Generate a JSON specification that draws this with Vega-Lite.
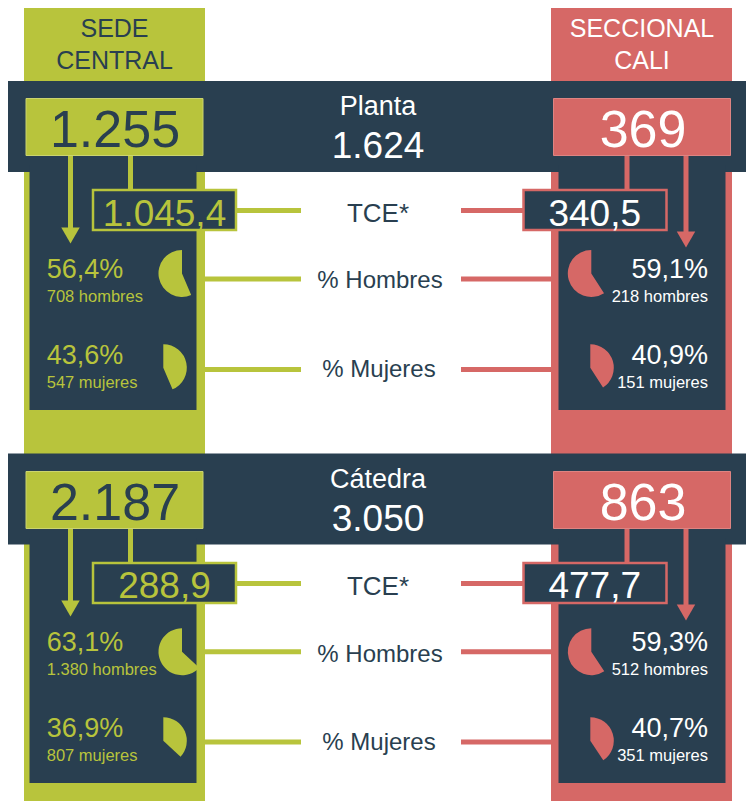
{
  "$schema": "https://vega.github.io/schema/vega-lite/v6.json",
  "width": 746,
  "height": 801,
  "autosize": {"type": "none"},
  "padding": 0,
  "background": "#ffffff",
  "config": {
    "view": {"stroke": null},
    "font": "Liberation Sans",
    "legend": {"disable": true},
    "locale": {"number": {"decimal": ",", "thousands": ".", "grouping": [3], "currency": ["$", ""]}}
  },
  "datasets": {
    "sedes": [
      {"sede": "Sede Central", "nombre": "SEDE\nCENTRAL"},
      {"sede": "Seccional Cali", "nombre": "SECCIONAL\nCALI"}
    ],
    "secciones": [
      {"section": "Planta", "total": 1624},
      {"section": "Cátedra", "total": 3050}
    ],
    "sede_seccion": [
      {"section": "Planta", "sede": "Sede Central", "total": 1255, "tce": 1045.4},
      {"section": "Planta", "sede": "Seccional Cali", "total": 369, "tce": 340.5},
      {"section": "Cátedra", "sede": "Sede Central", "total": 2187, "tce": 288.9},
      {"section": "Cátedra", "sede": "Seccional Cali", "total": 863, "tce": 477.7}
    ],
    "genero": [
      {"section": "Planta", "sede": "Sede Central", "metric": "hombres", "pct": 56.4, "count": 708},
      {"section": "Planta", "sede": "Sede Central", "metric": "mujeres", "pct": 43.6, "count": 547},
      {"section": "Planta", "sede": "Seccional Cali", "metric": "hombres", "pct": 59.1, "count": 218},
      {"section": "Planta", "sede": "Seccional Cali", "metric": "mujeres", "pct": 40.9, "count": 151},
      {"section": "Cátedra", "sede": "Sede Central", "metric": "hombres", "pct": 63.1, "count": 1380},
      {"section": "Cátedra", "sede": "Sede Central", "metric": "mujeres", "pct": 36.9, "count": 807},
      {"section": "Cátedra", "sede": "Seccional Cali", "metric": "hombres", "pct": 59.3, "count": 512},
      {"section": "Cátedra", "sede": "Seccional Cali", "metric": "mujeres", "pct": 40.7, "count": 351}
    ],
    "etiquetas": [
      {"section": "Planta", "metric": "TCE", "label": "TCE*"},
      {"section": "Planta", "metric": "hombres", "label": "% Hombres"},
      {"section": "Planta", "metric": "mujeres", "label": "% Mujeres"},
      {"section": "Cátedra", "metric": "TCE", "label": "TCE*"},
      {"section": "Cátedra", "metric": "hombres", "label": "% Hombres"},
      {"section": "Cátedra", "metric": "mujeres", "label": "% Mujeres"}
    ]
  },
  "resolve": {"scale": {"x": "independent", "y": "independent", "color": "independent", "stroke": "independent", "theta": "independent"}},
  "layer": [
    {
      "data": {"name": "sedes"},
      "mark": {"type": "rect", "width": 181, "height": 793},
      "encoding": {
        "x": {"field": "sede", "type": "nominal", "axis": null, "scale": {"type": "point", "domain": ["Sede Central", "Seccional Cali"], "range": [114.5, 641.5], "padding": 0}},
        "y": {"field": "sede", "type": "nominal", "axis": null, "scale": {"type": "point", "domain": ["Sede Central", "Seccional Cali"], "range": [404.5, 404.5], "padding": 0}},
        "color": {"field": "sede", "type": "nominal", "legend": null, "scale": {"domain": ["Sede Central", "Seccional Cali"], "range": ["#b8c43c", "#d66866"]}}
      }
    },
    {
      "data": {"name": "sedes"},
      "mark": {"type": "text", "fontSize": 25, "lineBreak": "\n", "lineHeight": 32, "align": "center", "baseline": "alphabetic"},
      "encoding": {
        "x": {"field": "sede", "type": "nominal", "axis": null, "scale": {"type": "point", "domain": ["Sede Central", "Seccional Cali"], "range": [114.5, 642], "padding": 0}},
        "y": {"field": "sede", "type": "nominal", "axis": null, "scale": {"type": "point", "domain": ["Sede Central", "Seccional Cali"], "range": [37.3, 37.3], "padding": 0}},
        "text": {"field": "nombre"},
        "color": {"field": "sede", "type": "nominal", "legend": null, "scale": {"domain": ["Sede Central", "Seccional Cali"], "range": ["#293f50", "#ffffff"]}}
      }
    },
    {
      "data": {"name": "sede_seccion"},
      "mark": {"type": "rect", "width": 71, "height": 5},
      "encoding": {
        "x": {"field": "sede", "type": "nominal", "axis": null, "scale": {"type": "point", "domain": ["Sede Central", "Seccional Cali"], "range": [265.5, 496.5], "padding": 0}},
        "y": {"field": "section", "type": "nominal", "axis": null, "scale": {"type": "point", "domain": ["Planta", "Cátedra"], "range": [210.5, 583.5], "padding": 0}},
        "color": {"field": "sede", "type": "nominal", "legend": null, "scale": {"domain": ["Sede Central", "Seccional Cali"], "range": ["#b8c43c", "#d66866"]}}
      }
    },
    {
      "data": {"name": "genero"},
      "transform": [{"filter": "datum.metric == 'hombres'"}],
      "mark": {"type": "rect", "width": 100, "height": 5},
      "encoding": {
        "x": {"field": "sede", "type": "nominal", "axis": null, "scale": {"type": "point", "domain": ["Sede Central", "Seccional Cali"], "range": [251, 511], "padding": 0}},
        "y": {"field": "section", "type": "nominal", "axis": null, "scale": {"type": "point", "domain": ["Planta", "Cátedra"], "range": [279, 651.8], "padding": 0}},
        "color": {"field": "sede", "type": "nominal", "legend": null, "scale": {"domain": ["Sede Central", "Seccional Cali"], "range": ["#b8c43c", "#d66866"]}}
      }
    },
    {
      "data": {"name": "genero"},
      "transform": [{"filter": "datum.metric == 'mujeres'"}],
      "mark": {"type": "rect", "width": 100, "height": 5},
      "encoding": {
        "x": {"field": "sede", "type": "nominal", "axis": null, "scale": {"type": "point", "domain": ["Sede Central", "Seccional Cali"], "range": [251, 511], "padding": 0}},
        "y": {"field": "section", "type": "nominal", "axis": null, "scale": {"type": "point", "domain": ["Planta", "Cátedra"], "range": [369.5, 742], "padding": 0}},
        "color": {"field": "sede", "type": "nominal", "legend": null, "scale": {"domain": ["Sede Central", "Seccional Cali"], "range": ["#b8c43c", "#d66866"]}}
      }
    },
    {
      "data": {"name": "secciones"},
      "mark": {"type": "rect", "width": 738, "height": 91, "color": "#293f50"},
      "encoding": {
        "x": {"field": "section", "type": "nominal", "axis": null, "scale": {"type": "point", "domain": ["Planta", "Cátedra"], "range": [377, 377], "padding": 0}},
        "y": {"field": "section", "type": "nominal", "axis": null, "scale": {"type": "point", "domain": ["Planta", "Cátedra"], "range": [126.5, 499], "padding": 0}}
      }
    },
    {
      "data": {"name": "sede_seccion"},
      "mark": {"type": "rect", "width": 167, "height": 245, "color": "#293f50"},
      "encoding": {
        "x": {"field": "sede", "type": "nominal", "axis": null, "scale": {"type": "point", "domain": ["Sede Central", "Seccional Cali"], "range": [113, 642], "padding": 0}},
        "y": {"field": "section", "type": "nominal", "axis": null, "scale": {"type": "point", "domain": ["Planta", "Cátedra"], "range": [287.5, 660.5], "padding": 0}}
      }
    },
    {
      "data": {"name": "sede_seccion"},
      "mark": {"type": "rect", "width": 5, "height": 84},
      "encoding": {
        "x": {"field": "sede", "type": "nominal", "axis": null, "scale": {"type": "point", "domain": ["Sede Central", "Seccional Cali"], "range": [70.5, 686], "padding": 0}},
        "y": {"field": "section", "type": "nominal", "axis": null, "scale": {"type": "point", "domain": ["Planta", "Cátedra"], "range": [192, 565], "padding": 0}},
        "color": {"field": "sede", "type": "nominal", "legend": null, "scale": {"domain": ["Sede Central", "Seccional Cali"], "range": ["#b8c43c", "#d66866"]}}
      }
    },
    {
      "data": {"name": "sede_seccion"},
      "mark": {"type": "rect", "width": 5, "height": 40},
      "encoding": {
        "x": {"field": "sede", "type": "nominal", "axis": null, "scale": {"type": "point", "domain": ["Sede Central", "Seccional Cali"], "range": [130.5, 627], "padding": 0}},
        "y": {"field": "section", "type": "nominal", "axis": null, "scale": {"type": "point", "domain": ["Planta", "Cátedra"], "range": [170, 543], "padding": 0}},
        "color": {"field": "sede", "type": "nominal", "legend": null, "scale": {"domain": ["Sede Central", "Seccional Cali"], "range": ["#b8c43c", "#d66866"]}}
      }
    },
    {
      "data": {"name": "sede_seccion"},
      "transform": [{"filter": "datum.sede == 'Sede Central'"}],
      "mark": {"type": "point", "shape": "triangle-down", "size": 340, "filled": true, "opacity": 1, "color": "#b8c43c"},
      "encoding": {
        "x": {"field": "sede", "type": "nominal", "axis": null, "scale": {"type": "point", "domain": ["Sede Central", "Seccional Cali"], "range": [70.5, 686], "padding": 0}},
        "y": {"field": "section", "type": "nominal", "axis": null, "scale": {"type": "point", "domain": ["Planta", "Cátedra"], "range": [235.5, 608.5], "padding": 0}}
      }
    },
    {
      "data": {"name": "sede_seccion"},
      "transform": [{"filter": "datum.sede == 'Seccional Cali'"}],
      "mark": {"type": "point", "shape": "triangle-down", "size": 340, "filled": true, "opacity": 1, "color": "#d66866"},
      "encoding": {
        "x": {"field": "sede", "type": "nominal", "axis": null, "scale": {"type": "point", "domain": ["Sede Central", "Seccional Cali"], "range": [70.5, 686], "padding": 0}},
        "y": {"field": "section", "type": "nominal", "axis": null, "scale": {"type": "point", "domain": ["Planta", "Cátedra"], "range": [239.4, 612.4], "padding": 0}}
      }
    },
    {
      "data": {"name": "sede_seccion"},
      "mark": {"type": "rect", "width": 177, "height": 57, "strokeWidth": 1},
      "encoding": {
        "x": {"field": "sede", "type": "nominal", "axis": null, "scale": {"type": "point", "domain": ["Sede Central", "Seccional Cali"], "range": [114.5, 642], "padding": 0}},
        "y": {"field": "section", "type": "nominal", "axis": null, "scale": {"type": "point", "domain": ["Planta", "Cátedra"], "range": [127, 500], "padding": 0}},
        "fill": {"field": "sede", "type": "nominal", "legend": null, "scale": {"domain": ["Sede Central", "Seccional Cali"], "range": ["#b8c43c", "#d66866"]}},
        "stroke": {"field": "sede", "type": "nominal", "legend": null, "scale": {"domain": ["Sede Central", "Seccional Cali"], "range": ["#cbd46e", "#de8482"]}}
      }
    },
    {
      "data": {"name": "sede_seccion"},
      "mark": {"type": "text", "fontSize": 52, "align": "center", "baseline": "alphabetic"},
      "encoding": {
        "x": {"field": "sede", "type": "nominal", "axis": null, "scale": {"type": "point", "domain": ["Sede Central", "Seccional Cali"], "range": [115, 643], "padding": 0}},
        "y": {"field": "section", "type": "nominal", "axis": null, "scale": {"type": "point", "domain": ["Planta", "Cátedra"], "range": [147, 520], "padding": 0}},
        "text": {"field": "total", "type": "quantitative", "format": ",d"},
        "color": {"field": "sede", "type": "nominal", "legend": null, "scale": {"domain": ["Sede Central", "Seccional Cali"], "range": ["#293f50", "#ffffff"]}}
      }
    },
    {
      "data": {"name": "sede_seccion"},
      "mark": {"type": "rect", "width": 143, "height": 40, "fill": "#293f50", "strokeWidth": 2.5},
      "encoding": {
        "x": {"field": "sede", "type": "nominal", "axis": null, "scale": {"type": "point", "domain": ["Sede Central", "Seccional Cali"], "range": [164.5, 595], "padding": 0}},
        "y": {"field": "section", "type": "nominal", "axis": null, "scale": {"type": "point", "domain": ["Planta", "Cátedra"], "range": [210, 583], "padding": 0}},
        "stroke": {"field": "sede", "type": "nominal", "legend": null, "scale": {"domain": ["Sede Central", "Seccional Cali"], "range": ["#b8c43c", "#d66866"]}}
      }
    },
    {
      "data": {"name": "sede_seccion"},
      "mark": {"type": "text", "fontSize": 37, "align": "center", "baseline": "alphabetic"},
      "encoding": {
        "x": {"field": "sede", "type": "nominal", "axis": null, "scale": {"type": "point", "domain": ["Sede Central", "Seccional Cali"], "range": [164.5, 594.7], "padding": 0}},
        "y": {"field": "section", "type": "nominal", "axis": null, "scale": {"type": "point", "domain": ["Planta", "Cátedra"], "range": [225.7, 598.2], "padding": 0}},
        "text": {"field": "tce", "type": "quantitative", "format": ",.1f"},
        "color": {"field": "sede", "type": "nominal", "legend": null, "scale": {"domain": ["Sede Central", "Seccional Cali"], "range": ["#b8c43c", "#ffffff"]}}
      }
    },
    {
      "data": {"name": "secciones"},
      "mark": {"type": "text", "fontSize": 27, "align": "center", "baseline": "alphabetic", "color": "#ffffff"},
      "encoding": {
        "x": {"field": "section", "type": "nominal", "axis": null, "scale": {"type": "point", "domain": ["Planta", "Cátedra"], "range": [378, 378], "padding": 0}},
        "y": {"field": "section", "type": "nominal", "axis": null, "scale": {"type": "point", "domain": ["Planta", "Cátedra"], "range": [115, 488], "padding": 0}},
        "text": {"field": "section"}
      }
    },
    {
      "data": {"name": "secciones"},
      "mark": {"type": "text", "fontSize": 37, "align": "center", "baseline": "alphabetic", "color": "#ffffff"},
      "encoding": {
        "x": {"field": "section", "type": "nominal", "axis": null, "scale": {"type": "point", "domain": ["Planta", "Cátedra"], "range": [378, 378], "padding": 0}},
        "y": {"field": "section", "type": "nominal", "axis": null, "scale": {"type": "point", "domain": ["Planta", "Cátedra"], "range": [158.3, 531], "padding": 0}},
        "text": {"field": "total", "type": "quantitative", "format": ",d"}
      }
    },
    {
      "data": {"name": "etiquetas"},
      "transform": [{"filter": "datum.metric == 'TCE'"}],
      "mark": {"type": "text", "fontSize": 26, "align": "center", "baseline": "alphabetic", "color": "#293f50"},
      "encoding": {
        "x": {"field": "section", "type": "nominal", "axis": null, "scale": {"type": "point", "domain": ["Planta", "Cátedra"], "range": [378, 378], "padding": 0}},
        "y": {"field": "section", "type": "nominal", "axis": null, "scale": {"type": "point", "domain": ["Planta", "Cátedra"], "range": [222, 595], "padding": 0}},
        "text": {"field": "label"}
      }
    },
    {
      "data": {"name": "etiquetas"},
      "transform": [{"filter": "datum.metric == 'hombres'"}],
      "mark": {"type": "text", "fontSize": 24, "align": "center", "baseline": "alphabetic", "color": "#293f50"},
      "encoding": {
        "x": {"field": "section", "type": "nominal", "axis": null, "scale": {"type": "point", "domain": ["Planta", "Cátedra"], "range": [380, 380], "padding": 0}},
        "y": {"field": "section", "type": "nominal", "axis": null, "scale": {"type": "point", "domain": ["Planta", "Cátedra"], "range": [288.3, 661.5], "padding": 0}},
        "text": {"field": "label"}
      }
    },
    {
      "data": {"name": "etiquetas"},
      "transform": [{"filter": "datum.metric == 'mujeres'"}],
      "mark": {"type": "text", "fontSize": 24, "align": "center", "baseline": "alphabetic", "color": "#293f50"},
      "encoding": {
        "x": {"field": "section", "type": "nominal", "axis": null, "scale": {"type": "point", "domain": ["Planta", "Cátedra"], "range": [379, 379], "padding": 0}},
        "y": {"field": "section", "type": "nominal", "axis": null, "scale": {"type": "point", "domain": ["Planta", "Cátedra"], "range": [377.3, 750.3], "padding": 0}},
        "text": {"field": "label"}
      }
    },
    {
      "data": {"name": "genero"},
      "transform": [{"filter": "datum.metric == 'hombres'"}],
      "mark": {"type": "text", "fontSize": 27, "baseline": "alphabetic", "align": {"expr": "datum.sede == 'Sede Central' ? 'left' : 'right'"}, "text": {"expr": "format(datum.pct, '.1f') + '%'"}},
      "encoding": {
        "x": {"field": "sede", "type": "nominal", "axis": null, "scale": {"type": "point", "domain": ["Sede Central", "Seccional Cali"], "range": [46.7, 708], "padding": 0}},
        "y": {"field": "section", "type": "nominal", "axis": null, "scale": {"type": "point", "domain": ["Planta", "Cátedra"], "range": [278, 650.5], "padding": 0}},
        "color": {"field": "sede", "type": "nominal", "legend": null, "scale": {"domain": ["Sede Central", "Seccional Cali"], "range": ["#b8c43c", "#ffffff"]}}
      }
    },
    {
      "data": {"name": "genero"},
      "transform": [{"filter": "datum.metric == 'mujeres'"}],
      "mark": {"type": "text", "fontSize": 27, "baseline": "alphabetic", "align": {"expr": "datum.sede == 'Sede Central' ? 'left' : 'right'"}, "text": {"expr": "format(datum.pct, '.1f') + '%'"}},
      "encoding": {
        "x": {"field": "sede", "type": "nominal", "axis": null, "scale": {"type": "point", "domain": ["Sede Central", "Seccional Cali"], "range": [46.7, 708], "padding": 0}},
        "y": {"field": "section", "type": "nominal", "axis": null, "scale": {"type": "point", "domain": ["Planta", "Cátedra"], "range": [364, 736.7], "padding": 0}},
        "color": {"field": "sede", "type": "nominal", "legend": null, "scale": {"domain": ["Sede Central", "Seccional Cali"], "range": ["#b8c43c", "#ffffff"]}}
      }
    },
    {
      "data": {"name": "genero"},
      "transform": [{"filter": "datum.metric == 'hombres'"}],
      "mark": {"type": "text", "fontSize": 16.5, "baseline": "alphabetic", "align": {"expr": "datum.sede == 'Sede Central' ? 'left' : 'right'"}, "text": {"expr": "format(datum.count, ',d') + ' ' + datum.metric"}},
      "encoding": {
        "x": {"field": "sede", "type": "nominal", "axis": null, "scale": {"type": "point", "domain": ["Sede Central", "Seccional Cali"], "range": [46.7, 708], "padding": 0}},
        "y": {"field": "section", "type": "nominal", "axis": null, "scale": {"type": "point", "domain": ["Planta", "Cátedra"], "range": [302, 675], "padding": 0}},
        "color": {"field": "sede", "type": "nominal", "legend": null, "scale": {"domain": ["Sede Central", "Seccional Cali"], "range": ["#b8c43c", "#ffffff"]}}
      }
    },
    {
      "data": {"name": "genero"},
      "transform": [{"filter": "datum.metric == 'mujeres'"}],
      "mark": {"type": "text", "fontSize": 16.5, "baseline": "alphabetic", "align": {"expr": "datum.sede == 'Sede Central' ? 'left' : 'right'"}, "text": {"expr": "format(datum.count, ',d') + ' ' + datum.metric"}},
      "encoding": {
        "x": {"field": "sede", "type": "nominal", "axis": null, "scale": {"type": "point", "domain": ["Sede Central", "Seccional Cali"], "range": [46.7, 708], "padding": 0}},
        "y": {"field": "section", "type": "nominal", "axis": null, "scale": {"type": "point", "domain": ["Planta", "Cátedra"], "range": [388, 760.7], "padding": 0}},
        "color": {"field": "sede", "type": "nominal", "legend": null, "scale": {"domain": ["Sede Central", "Seccional Cali"], "range": ["#b8c43c", "#ffffff"]}}
      }
    },
    {
      "data": {"name": "genero"},
      "transform": [{"filter": "datum.metric == 'hombres'"}],
      "mark": {"type": "arc", "outerRadius": 23.5},
      "encoding": {
        "x": {"field": "sede", "type": "nominal", "axis": null, "scale": {"type": "point", "domain": ["Sede Central", "Seccional Cali"], "range": [182, 591.3], "padding": 0}},
        "y": {"field": "section", "type": "nominal", "axis": null, "scale": {"type": "point", "domain": ["Planta", "Cátedra"], "range": [273.4, 651.7], "padding": 0}},
        "theta": {"field": "pct", "type": "quantitative", "stack": null, "scale": {"domain": [0, 100], "range": [6.283185, 0]}},
        "theta2": {"value": 6.283185},
        "color": {"field": "sede", "type": "nominal", "legend": null, "scale": {"domain": ["Sede Central", "Seccional Cali"], "range": ["#b8c43c", "#d66866"]}}
      }
    },
    {
      "data": {"name": "genero"},
      "transform": [{"filter": "datum.metric == 'mujeres'"}],
      "mark": {"type": "arc", "outerRadius": 23.5},
      "encoding": {
        "x": {"field": "sede", "type": "nominal", "axis": null, "scale": {"type": "point", "domain": ["Sede Central", "Seccional Cali"], "range": [163.3, 590.3], "padding": 0}},
        "y": {"field": "section", "type": "nominal", "axis": null, "scale": {"type": "point", "domain": ["Planta", "Cátedra"], "range": [367.7, 740.7], "padding": 0}},
        "theta": {"field": "pct", "type": "quantitative", "stack": null, "scale": {"domain": [0, 100], "range": [0, 6.283185]}},
        "theta2": {"value": 0},
        "color": {"field": "sede", "type": "nominal", "legend": null, "scale": {"domain": ["Sede Central", "Seccional Cali"], "range": ["#b8c43c", "#d66866"]}}
      }
    }
  ]
}
